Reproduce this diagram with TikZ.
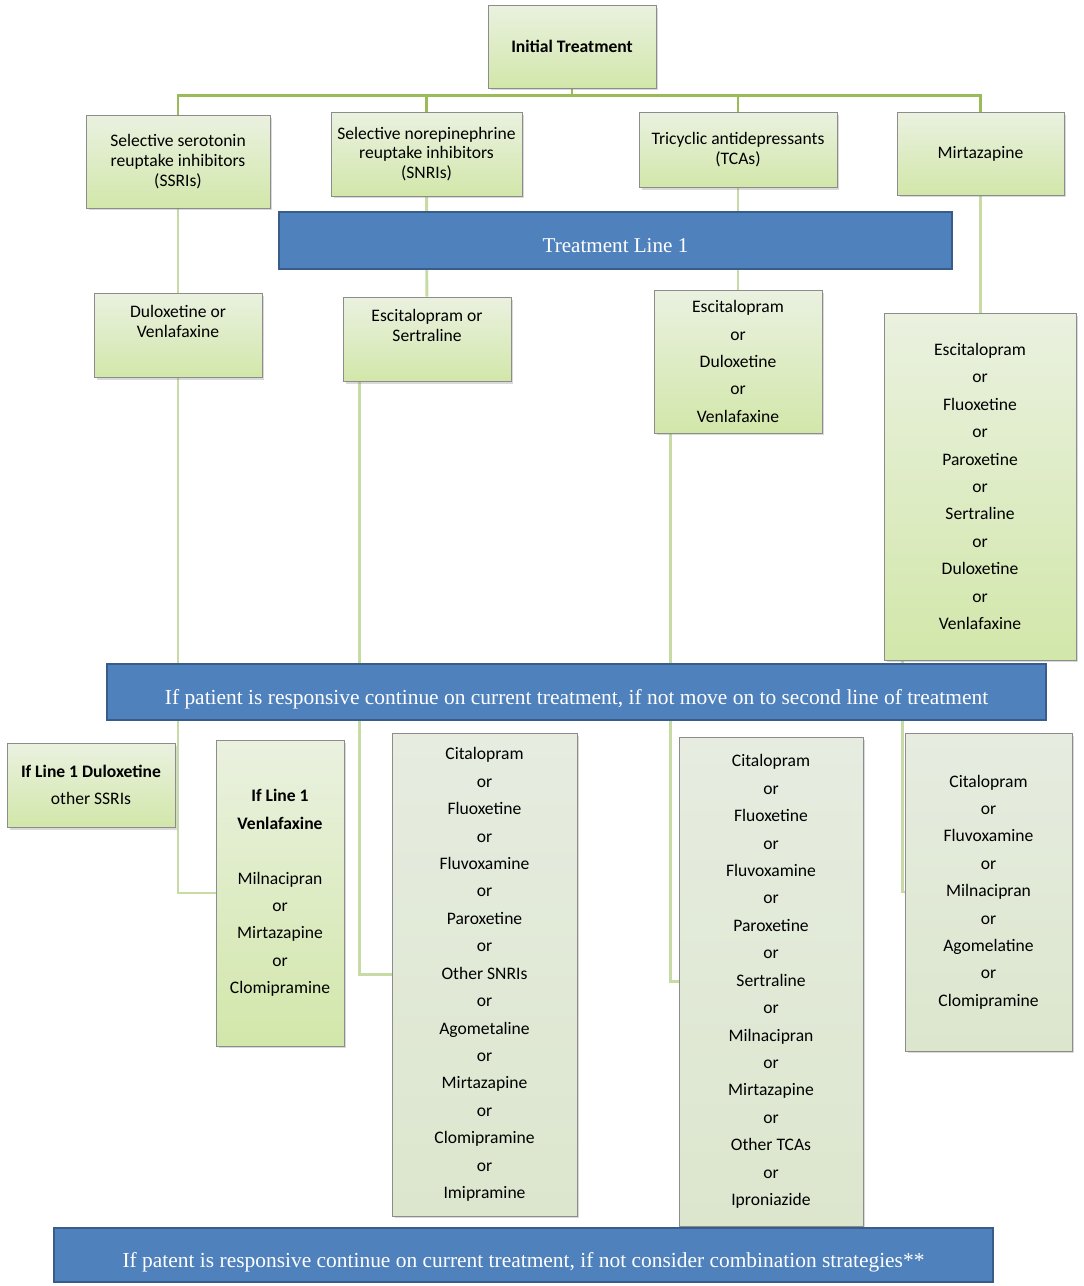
\documentclass[tikz,border=0pt]{standalone}
\usepackage{fontspec}
\setmainfont{Carlito}
\newfontfamily\barfont{Liberation Serif}
\usetikzlibrary{shadows,backgrounds}
\definecolor{boxtop}{RGB}{234,241,224}
\definecolor{boxbot}{RGB}{210,231,170}
\definecolor{greytop}{RGB}{230,236,224}
\definecolor{greybot}{RGB}{220,230,205}
\definecolor{barblue}{RGB}{79,129,189}
\definecolor{barline}{RGB}{56,93,138}
\definecolor{trunkgreen}{RGB}{155,187,89}
\definecolor{branchgreen}{RGB}{200,219,164}

\begin{document}
\begin{tikzpicture}
[
x=0.02cm, y=-0.02cm,
drug/.style 2 args={draw=black!45, top color=boxtop, bottom color=boxbot,
            minimum width=#1, minimum height=#2, align=center, inner sep=2pt,
            font=\fontsize{10}{11.3}\selectfont,
            drop shadow={shadow xshift=0.05cm, shadow yshift=-0.05cm, opacity=0.3}},
list/.style={font=\fontsize{10}{15.6}\selectfont},
pale/.style={top color=greytop, bottom color=greybot},
bar/.style 2 args={draw=barline, line width=1.5pt, fill=barblue, text=white,
            minimum width=#1, minimum height=#2, text height=14pt, text depth=0pt,
            font=\barfont\fontsize{12.2}{14}\selectfont},
trunk/.style={draw=trunkgreen, line width=1.6pt},
branch/.style={draw=branchgreen, line width=1.6pt},
]
\useasboundingbox (0,0) rectangle (1084,1286);

%Place the nodes
\node[drug={3.36cm}{1.66cm}] (init) at (572,46.5) {\textbf{Initial Treatment}};
\node[drug={3.68cm}{1.86cm}] (ssri) at (178,161.5) {Selective serotonin\\reuptake inhibitors\\(SSRIs)};
\node[drug={3.82cm}{1.68cm}] (snri) at (426.5,154) {Selective norepinephrine\\reuptake inhibitors\\(SNRIs)};
\node[drug={3.96cm}{1.5cm}] (tca) at (738,149.5) {Tricyclic antidepressants\\(TCAs)};
\node[drug={3.34cm}{1.66cm}] (mirt) at (980.5,153.5) {Mirtazapine};
\node[bar={13.46cm}{1.14cm}, font=\barfont\fontsize{12}{14}\selectfont] (line1) at (615.5,240.5) {Treatment Line 1};
%first line drugs
\node[drug={3.36cm}{1.68cm}] (a1) at (178,335) {Duloxetine or\\Venlafaxine\\[4pt]\mbox{}};
\node[drug={3.36cm}{1.68cm}] (a2) at (427,339) {Escitalopram or\\Sertraline\\[4pt]\mbox{}};
\node[drug={3.36cm}{2.86cm}, list] (a3) at (738,361.5) {Escitalopram\\or\\Duloxetine\\or\\Venlafaxine};
\node[drug={3.84cm}{6.94cm}, list] (a4) at (980,486.5) {\mbox{}\\[-8.8pt]Escitalopram\\or\\Fluoxetine\\or\\Paroxetine\\or\\Sertraline\\or\\Duloxetine\\or\\Venlafaxine};
\node[bar={18.78cm}{1.12cm}] (line2) at (576.5,692) {If patient is responsive continue on current treatment, if not move on to second line of treatment};
%second line drugs
\node[drug={3.36cm}{1.68cm}, list] (b0) at (91,785) {\textbf{If Line 1 Duloxetine}\\other SSRIs};
\node[drug={2.56cm}{6.12cm}, list] (b1) at (280,893) {\textbf{If Line 1}\\\textbf{Venlafaxine}\\[15.6pt]Milnacipran\\or\\Mirtazapine\\or\\Clomipramine};
\node[drug={3.7cm}{9.66cm}, list, pale] (b2) at (484.5,974.5) {Citalopram\\or\\Fluoxetine\\or\\Fluvoxamine\\or\\Paroxetine\\or\\Other SNRIs\\or\\Agometaline\\or\\Mirtazapine\\or\\Clomipramine\\or\\Imipramine};
\node[drug={3.68cm}{9.78cm}, list, pale] (b3) at (771,981.5) {Citalopram\\or\\Fluoxetine\\or\\Fluvoxamine\\or\\Paroxetine\\or\\Sertraline\\or\\Milnacipran\\or\\Mirtazapine\\or\\Other TCAs\\or\\Iproniazide};
\node[drug={3.34cm}{6.36cm}, list, pale] (b4) at (988.5,892) {Citalopram\\or\\Fluvoxamine\\or\\Milnacipran\\or\\Agomelatine\\or\\Clomipramine};
\node[bar={18.78cm}{1.08cm}] (line3) at (523.5,1255) {If patent is responsive continue on current treatment, if not consider combination strategies**};

%Draw the connections
\begin{scope}[on background layer]
\draw[trunk] (init.south) -- ++(0,7) -| (ssri.north);
\draw[trunk] (init.south) -- ++(0,7) -| (snri.north);
\draw[trunk] (init.south) -- ++(0,7) -| (tca.north);
\draw[trunk] (init.south) -- ++(0,7) -| (mirt.north);
\draw[branch] (ssri) -- (a1);
\draw[branch] (snri) -- (a2);
\draw[branch] (tca) -- (a3);
\draw[branch] (mirt.south) -- (mirt.south |- a4.north);
\draw[branch] (a1.south) |- (b1.west);
\draw[branch] ([xshift=0.34cm]a2.south west) |- (b2.west);
\draw[branch] ([xshift=0.34cm]a3.south west) |- (b3.west);
\draw[branch] ([xshift=0.38cm]a4.south west) |- (b4.west);
\end{scope}
\end{tikzpicture}
\end{document}
